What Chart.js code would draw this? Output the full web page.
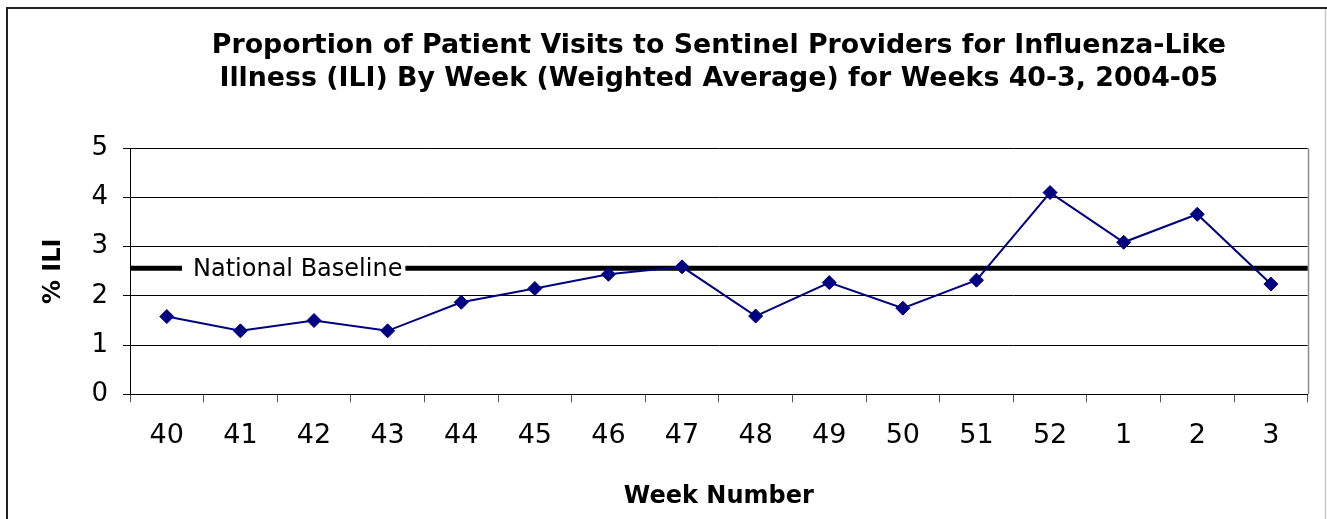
<!DOCTYPE html>
<html>
<head>
<meta charset="utf-8">
<style>
  html, body { margin: 0; padding: 0; background: #ffffff; }
  #chart { display: block; }
</style>
<script src="https://cdn.jsdelivr.net/npm/chart.js@4/dist/chart.umd.min.js"></script>
</head>
<body>
<canvas id="chart" width="1327" height="519" style="width:1327px;height:519px"></canvas>
<script>
// ---- Data ----
const weekLabels = ['40', '41', '42', '43', '44', '45', '46', '47', '48', '49', '50', '51', '52', '1', '2', '3'];
const iliPercent = [1.58, 1.29, 1.50, 1.29, 1.87, 2.15, 2.44, 2.59, 1.59, 2.27, 1.75, 2.32, 4.10, 3.09, 3.66, 2.24];
const nationalBaseline = 2.56;
const baselineLabel = 'National Baseline';
const yTickValues = [0, 1, 2, 3, 4, 5];
const titleLines = [
  'Proportion of Patient Visits to Sentinel Providers for Influenza-Like',
  'Illness (ILI) By Week (Weighted Average) for Weeks 40-3, 2004-05'
];
const xAxisTitle = 'Week Number';
const yAxisTitle = '% ILI';

const FONT = "'DejaVu Sans', 'Liberation Sans', Arial, sans-serif";

// Outer frame of the picture
const framePlugin = {
  id: 'frame',
  beforeDraw(chart) {
    const ctx = chart.ctx;
    ctx.save();
    ctx.fillStyle = '#ffffff';
    ctx.fillRect(0, 0, chart.width, chart.height);
    ctx.strokeStyle = '#222222';
    ctx.lineWidth = 2;
    ctx.beginPath();
    ctx.moveTo(7, chart.height);
    ctx.lineTo(7, 8);
    ctx.lineTo(chart.width, 8);
    ctx.stroke();
    ctx.strokeStyle = '#c8c8c8';
    ctx.lineWidth = 1.5;
    ctx.beginPath();
    ctx.moveTo(1325.5, 9);
    ctx.lineTo(1325.5, chart.height);
    ctx.stroke();
    ctx.restore();
  }
};

// Right border of plot area and the national baseline (drawn through the y scale)
const baselinePlugin = {
  id: 'baseline',
  beforeDatasetsDraw(chart) {
    const ctx = chart.ctx;
    const area = chart.chartArea;
    const yScale = chart.scales.y;
    ctx.save();
    // right border of plot area
    ctx.strokeStyle = '#8c8c8c';
    ctx.lineWidth = 1.5;
    ctx.beginPath();
    ctx.moveTo(Math.round(area.right) + 0.5, area.top);
    ctx.lineTo(Math.round(area.right) + 0.5, area.bottom);
    ctx.stroke();
    // baseline
    const y = yScale.getPixelForValue(nationalBaseline);
    ctx.strokeStyle = '#000000';
    ctx.lineWidth = 5;
    ctx.beginPath();
    ctx.moveTo(area.left, y);
    ctx.lineTo(area.right, y);
    ctx.stroke();
    // label with white background
    ctx.font = '24px ' + FONT;
    ctx.textBaseline = 'middle';
    ctx.textAlign = 'left';
    const tx = area.left + 63;
    const w = ctx.measureText(baselineLabel).width;
    ctx.fillStyle = '#ffffff';
    ctx.fillRect(tx - 11, y - 14, w + 14, 28);
    ctx.fillStyle = '#000000';
    ctx.fillText(baselineLabel, tx, y + 1);
    ctx.restore();
  }
};

new Chart(document.getElementById('chart'), {
  type: 'line',
  data: {
    labels: weekLabels,
    datasets: [{
      label: '% ILI',
      data: iliPercent,
      borderColor: '#000080',
      backgroundColor: '#000080',
      borderWidth: 2,
      pointStyle: 'rectRot',
      pointRadius: 7,
      pointBorderWidth: 1,
      pointBackgroundColor: '#000080',
      pointBorderColor: '#000080',
      tension: 0,
      fill: false
    }]
  },
  options: {
    responsive: false,
    animation: false,
    devicePixelRatio: 1,
    layout: { padding: { left: 0, right: 19.3, top: 0, bottom: 0 } },
    plugins: {
      legend: { display: false },
      tooltip: { enabled: false },
      title: {
        display: true,
        text: titleLines,
        color: '#000000',
        fullSize: false,
        font: { family: FONT, size: 26.8, weight: 'bold', lineHeight: '33px' },
        padding: { top: 29.5, bottom: 52.8 }
      }
    },
    scales: {
      x: {
        type: 'category',
        offset: true,
        afterFit(scale) { scale.height = 124.7; },
        grid: {
          offset: true,
          drawOnChartArea: false,
          drawTicks: true,
          tickLength: 8,
          color: '#555555',
          lineWidth: 1
        },
        border: { display: true, color: '#000000', width: 1 },
        ticks: {
          color: '#000000',
          font: { family: FONT, size: 27 },
          padding: 17.5,
          maxRotation: 0,
          autoSkip: false
        },
        title: {
          display: true,
          text: xAxisTitle,
          color: '#000000',
          font: { family: FONT, size: 24, weight: 'bold' },
          padding: { top: 0, bottom: 8 }
        }
      },
      y: {
        min: 0,
        max: 5,
        afterFit(scale) { scale.width = 130; },
        afterBuildTicks(scale) { scale.ticks = yTickValues.map(v => ({ value: v })); },
        grid: {
          color: '#000000',
          lineWidth: 1,
          drawTicks: true,
          tickLength: 7
        },
        border: { display: true, color: '#000000', width: 1 },
        ticks: {
          color: '#000000',
          font: { family: FONT, size: 26 },
          padding: 15
        },
        title: {
          display: true,
          text: yAxisTitle,
          color: '#000000',
          font: { family: FONT, size: 24, weight: 'bold' },
          padding: { top: 39, bottom: 0 }
        }
      }
    }
  },
  plugins: [framePlugin, baselinePlugin]
});
</script>
</body>
</html>
